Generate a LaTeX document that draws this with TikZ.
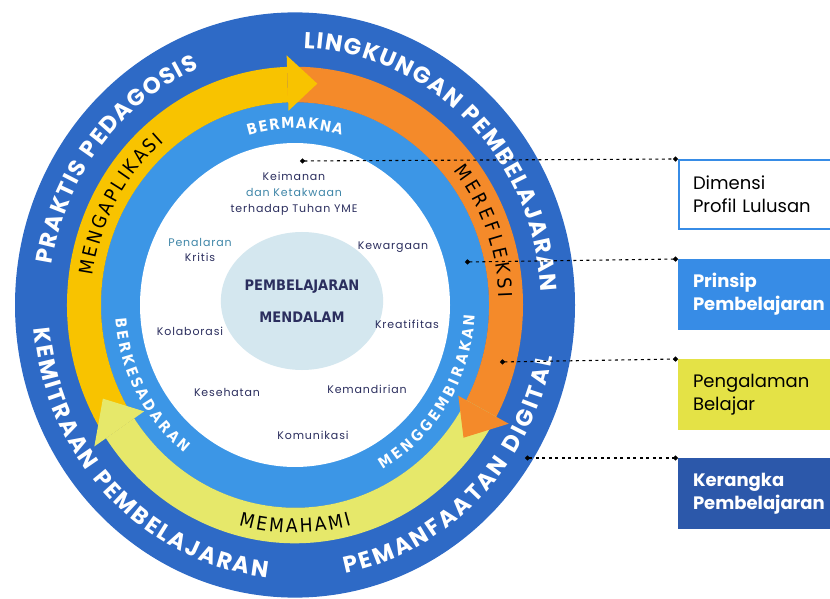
\documentclass[tikz,border=0pt]{standalone}
\usepackage{fontspec}
\setmainfont{Poppins}
\newfontfamily\condfont{DejaVu Sans Condensed}
\newfontfamily\labelfont[LetterSpace=8]{Poppins}
\usetikzlibrary{decorations.text, shapes.geometric, arrows.meta}

\definecolor{ringdark}{HTML}{2E6AC6}
\definecolor{ringlight}{HTML}{3C96E6}
\definecolor{bandgold}{HTML}{F8C300}
\definecolor{bandorange}{HTML}{F48A2A}
\definecolor{bandpale}{HTML}{E6E86A}
\definecolor{intifill}{HTML}{D4E7EF}
\definecolor{navy}{HTML}{2B2E5E}
\definecolor{tealtext}{HTML}{3F86A8}
\definecolor{boxblue}{HTML}{378CE6}
\definecolor{boxyellow}{HTML}{E4E246}
\definecolor{boxdark}{HTML}{2C58AA}

\begin{document}
\begin{tikzpicture}[x=1pt, y=1pt,
    ringtext/.style = {decorate, decoration={text along path, text align=fit to path, text color=white, text={|\fontsize{23}{26}\selectfont\bfseries|#1}}},
    bandtext/.style = {decorate, decoration={text along path, text align=fit to path, text color=black, text={|\condfont\fontsize{19}{22}\selectfont|#1}}},
    lighttext/.style = {decorate, decoration={text along path, text align=fit to path, text color=white, text={|\condfont\fontsize{15}{18}\selectfont\bfseries|#1}}},
    dim/.style = {font=\labelfont\fontsize{11}{15}\selectfont, text=navy, align=center},
    box/.style = {draw, anchor=north west, minimum height=69, text width=170, inner xsep=14, align=left, line width=2, font=\fontsize{18}{23}\selectfont},
    boxbold/.style = {text=white, font=\fontsize{18}{23}\selectfont\bfseries},
    link/.style = {dash pattern=on 3pt off 3.5pt, line width=1.1, {Circle[length=5pt]}-{Circle[length=5pt]}}]
    \useasboundingbox (0,0) rectangle (830,598);

    % rings
    \begin{scope}[shift={(295,293)}, yscale=1.045]
        \fill[ringdark] (0,0) circle (280);
        \fill[ringlight] (0,0) circle (194);
        \fill[white] (0,0) circle (155);

        \fill[bandgold] (214:228) arc[start angle=214, end angle=92, radius=228] -- (92:194) arc[start angle=92, end angle=214, radius=194] -- cycle;
        \fill[bandorange] (92:228) arc[start angle=92, end angle=-28, radius=228] -- (-28:194) arc[start angle=-28, end angle=92, radius=194] -- cycle;
        \fill[bandpale] (-28:228) arc[start angle=-28, end angle=-146, radius=228] -- (-146:194) arc[start angle=-146, end angle=-28, radius=194] -- cycle;
        \fill[bandgold] (92:186) -- (92:239) -- (84:213) -- cycle;
        \fill[bandorange] (-28:185) -- (-28:242) -- (-37:211) -- cycle;
        \fill[bandpale] (214:182) -- (214:242) -- (205:212) -- cycle;

        \path[ringtext={PRAKTIS PEDAGOSIS}] (171:246) arc[start angle=171, end angle=113, radius=246];
        \path[ringtext={LINGKUNGAN PEMBELAJARAN}] (88:246) arc[start angle=88, end angle=3, radius=246];
        \path[ringtext={KEMITRAAN PEMBELAJARAN}] (185:262) arc[start angle=185, end angle=264, radius=262];
        \path[ringtext={PEMANFAATAN DIGITAL}] (281:262) arc[start angle=281, end angle=349, radius=262];

        \path[bandtext={MENGAPLIKASI}] (172:204) arc[start angle=172, end angle=130, radius=204];
        \path[bandtext={MEREFLEKSI}] (39:204) arc[start angle=39, end angle=2, radius=204];
        \path[bandtext={MEMAHAMI}] (255:218) arc[start angle=255, end angle=285, radius=218];

        \path[lighttext={BERMAKNA}] (106:169) arc[start angle=106, end angle=74, radius=169];
        \path[lighttext={BERKESADARAN}] (184:180) arc[start angle=184, end angle=232, radius=180];
        \path[lighttext={MENGGEMBIRAKAN}] (299:180) arc[start angle=299, end angle=357, radius=180];
    \end{scope}

    \node[ellipse, fill=intifill, minimum width=130, minimum height=138, inner sep=0, align=center, text=navy, font=\condfont\fontsize{14.5}{32}\selectfont\bfseries] (0) at (302,297) {PEMBELAJARAN\\MENDALAM};

    \node[dim, font=\labelfont\fontsize{11}{16}\selectfont] (k1) at (294,404) {Keimanan\\\textcolor{tealtext}{dan Ketakwaan}\\terhadap Tuhan YME};
    \node[dim] (k2) at (200,348) {\textcolor{tealtext}{Penalaran}\\Kritis};
    \node[dim] (k3) at (393,351) {Kewargaan};
    \node[dim] (k4) at (190,267) {Kolaborasi};
    \node[dim] (k5) at (407,274) {Kreatifitas};
    \node[dim] (k6) at (227,206) {Kesehatan};
    \node[dim] (k7) at (367,209) {Kemandirian};
    \node[dim] (k8) at (313,163) {Komunikasi};

    \node[box, draw=boxblue, fill=white] (1) at (678,439) {Dimensi\\Profil Lulusan};
    \node[box, boxbold, draw=boxblue, fill=boxblue] (2) at (678,339) {Prinsip\\Pembelajaran};
    \node[box, draw=boxyellow, fill=boxyellow] (3) at (678,239) {Pengalaman\\Belajar};
    \node[box, boxbold, draw=boxdark, fill=boxdark] (4) at (678,140) {Kerangka\\Pembelajaran};

    \coordinate (p1) at (300,437);
    \coordinate (p2) at (465,336);
    \coordinate (p3) at (500,236);
    \coordinate (p4) at (525,140);
    \draw[link] (p1) -- (1.north west);
    \draw[link] (p2) -- (2.north west);
    \draw[link] (p3) -- (3.north west);
    \draw[link] (p4) -- (4.north west);
\end{tikzpicture}
\end{document}
